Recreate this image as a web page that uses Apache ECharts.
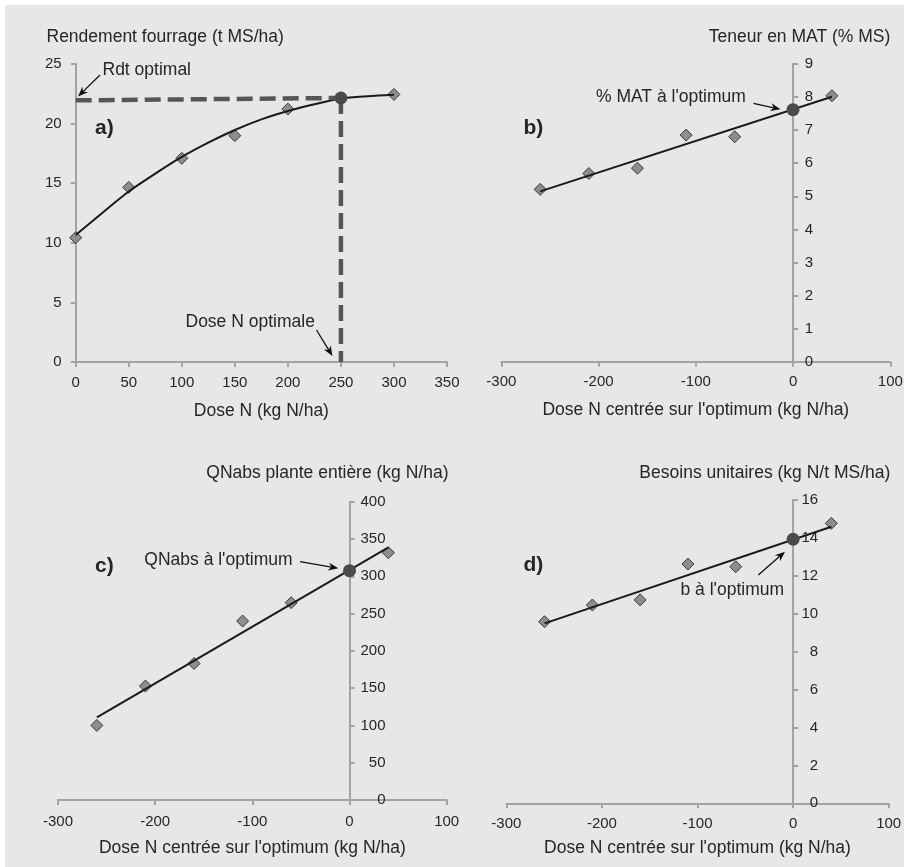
<!DOCTYPE html>
<html>
<head>
<meta charset="utf-8">
<script src="https://cdn.jsdelivr.net/npm/echarts@6/dist/echarts.min.js"></script>
<style>html,body{margin:0;padding:0;background:#fff;}#c{width:904px;height:867px;}</style>
</head>
<body>
<div id="c"></div>
<script>
// ---------- DATA ----------
// Panel a) yield vs N dose
const doseA = [0, 50, 100, 150, 200, 300];
const rendA = [10.43, 14.65, 17.09, 18.99, 21.22, 22.45];
const curveDoseA = [0, 25, 50, 75, 100, 125, 150, 175, 200, 225, 250, 275, 300];
const curveRendA = [10.65, 12.5, 14.3, 15.8, 17.2, 18.4, 19.46, 20.35, 21.05, 21.62, 22.1, 22.3, 22.42];
const optA = [250, 22.15];
const dashStartYA = 21.95;

// Panels b), c), d) : dose centred on optimum
const doseCentered = [-260, -210, -160, -110, -60, 40];
const fitX = [-260, 40];

const matB = [5.21, 5.69, 5.85, 6.85, 6.80, 8.04];
const fitB = [5.15, 8.01];
const optB = 7.62;

const qnC = [100, 152.8, 183, 240, 264.6, 331.6];
const fitC = [110.8, 338.8];
const optC = 307.5;

const bD = [9.58, 10.46, 10.73, 12.62, 12.48, 14.77];
const fitD = [9.49, 14.59];
const optD = 13.93;

// Axis ranges / ticks
const xTicksA = {min: 0, max: 350, interval: 50};
const yTicksA = {min: 0, max: 25, interval: 5};
const xTicksC = {min: -300, max: 100, interval: 100};
const yTicksB = {min: 0, max: 9, interval: 1};
const yTicksC = {min: 0, max: 400, interval: 50};
const yTicksD = {min: 0, max: 16, interval: 2};

// Texts
const yNames = ['Rendement fourrage (t MS/ha)', 'Teneur en MAT (% MS)', 'QNabs plante entière (kg N/ha)', 'Besoins unitaires (kg N/t MS/ha)'];
const xNames = ['Dose N (kg N/ha)', "Dose N centrée sur l'optimum (kg N/ha)", "Dose N centrée sur l'optimum (kg N/ha)", "Dose N centrée sur l'optimum (kg N/ha)"];
const panelLabels = ['a)', 'b)', 'c)', 'd)'];

// ---------- CHART ----------
const FONT = "'Liberation Sans', Arial, Helvetica, sans-serif";
const TXT = '#262626';
const AX = '#a3a3a3';

const zip = (xs, ys) => xs.map((x, i) => [x, ys[i]]);

const gridBoxes = [
  {left: 75.7, top: 64, width: 371.3, height: 298},
  {left: 501.3, top: 64, width: 389, height: 297.7},
  {left: 58, top: 501.7, width: 388.7, height: 298.3},
  {left: 506.3, top: 500, width: 382.4, height: 303.3}
];
const grids = gridBoxes.map(g => Object.assign({outerBoundsMode: 'none', containLabel: false}, g));

function xAx(i, t, gap, margin) {
  return Object.assign({
    type: 'value', gridIndex: i,
    name: xNames[i], nameLocation: 'middle', nameGap: gap,
    nameTextStyle: {fontFamily: FONT, fontSize: 17.5, color: TXT},
    axisLine: {show: true, onZero: false, lineStyle: {color: AX, width: 2}},
    axisTick: {show: true, length: 5, lineStyle: {color: AX, width: 2}},
    axisLabel: {fontFamily: FONT, fontSize: 15, color: TXT, margin: margin, showMinLabel: true, showMaxLabel: true},
    splitLine: {show: false}
  }, t);
}
// y axis placed on x = 0 of the paired x axis (right-side labels)
function yAx(i, t, pos, margin, align, xt) {
  let offset = 0;
  if (pos === 'right' && xt) {
    offset = -gridBoxes[i].width * (xt.max - 0) / (xt.max - xt.min);
  }
  return Object.assign({
    type: 'value', gridIndex: i, position: pos, offset: offset,
    axisLine: {show: true, onZero: false, lineStyle: {color: AX, width: 2}},
    axisTick: {show: true, length: 5, lineStyle: {color: AX, width: 2}},
    axisLabel: {fontFamily: FONT, fontSize: 15, color: TXT, margin: margin, align: align, showMinLabel: true, showMaxLabel: true},
    splitLine: {show: false}
  }, t);
}

const diamond = (i, data) => ({
  type: 'scatter', xAxisIndex: i, yAxisIndex: i, data: data,
  symbol: 'diamond', symbolSize: 12, z: 2,
  itemStyle: {color: '#8d8d8d', borderColor: '#3a3a3a', borderWidth: 1, opacity: 1},
  emphasis: {disabled: true}
});
const fitLine = (i, data, smooth) => ({
  type: 'line', xAxisIndex: i, yAxisIndex: i, data: data, smooth: smooth || false,
  showSymbol: false, symbol: 'none', z: 3,
  lineStyle: {color: '#1a1a1a', width: 2}, emphasis: {disabled: true}
});
const optPoint = (i, pt) => ({
  type: 'scatter', xAxisIndex: i, yAxisIndex: i, data: [pt],
  symbol: 'circle', symbolSize: 13, z: 5,
  itemStyle: {color: '#4a4a4a', opacity: 1}, emphasis: {disabled: true}
});
const dashLine = (i, data) => ({
  type: 'line', xAxisIndex: i, yAxisIndex: i, data: data,
  showSymbol: false, symbol: 'none', z: 4,
  lineStyle: {color: '#555555', width: 4.5, type: [16, 7]}, emphasis: {disabled: true}
});

// graphics helpers
function txt(text, x, y, opts) {
  opts = opts || {};
  return {
    type: 'text', x: x, y: y, z: 10,
    style: {
      text: text, fill: TXT,
      font: (opts.bold ? 'bold ' : '') + (opts.size || 17.5) + 'px ' + FONT,
      align: opts.align || 'left', verticalAlign: 'middle',
      textAlign: opts.align || 'left', textVerticalAlign: 'middle'
    }
  };
}
function arrow(x1, y1, x2, y2) {
  const ang = Math.atan2(y2 - y1, x2 - x1);
  const L = 10, W = 4;
  const bx = x2 - L * Math.cos(ang), by = y2 - L * Math.sin(ang);
  const px = -Math.sin(ang) * W, py = Math.cos(ang) * W;
  const nx = x2 - 0.7 * L * Math.cos(ang), ny = y2 - 0.7 * L * Math.sin(ang);
  return [
    {type: 'line', z: 10, shape: {x1: x1, y1: y1, x2: nx, y2: ny}, style: {stroke: '#111', lineWidth: 1.3}},
    {type: 'polygon', z: 10, shape: {points: [[x2, y2], [bx + px, by + py], [nx, ny], [bx - px, by - py]]}, style: {fill: '#111'}}
  ];
}

const graphics = [
  {type: 'rect', z: -10, shape: {x: 5, y: 5, width: 899, height: 862}, style: {fill: '#e6e7e8'}},
  txt(yNames[0], 46.5, 37.5),
  txt(yNames[1], 890.3, 37.5, {align: 'right'}),
  txt(yNames[2], 448.5, 473.5, {align: 'right'}),
  txt(yNames[3], 890.3, 473.5, {align: 'right'}),
  txt(panelLabels[0], 95, 128, {bold: true, size: 21}),
  txt(panelLabels[1], 523.5, 128, {bold: true, size: 21}),
  txt(panelLabels[2], 95, 566.5, {bold: true, size: 21}),
  txt(panelLabels[3], 523.5, 565, {bold: true, size: 21}),
  txt('Rdt optimal', 102.5, 70),
  txt('Dose N optimale', 185.5, 322),
  txt("% MAT à l'optimum", 596, 97.5),
  txt("QNabs à l'optimum", 144.3, 560),
  txt("b à l'optimum", 680.5, 590)
].concat(
  arrow(100, 75, 78, 96.5),
  arrow(316.5, 330, 332.5, 356),
  arrow(753.5, 103.3, 780.5, 109.3),
  arrow(300, 561.7, 338.3, 568.3),
  arrow(758.3, 575, 785, 551.7)
);

const option = {
  animation: false,
  backgroundColor: '#ffffff',
  textStyle: {fontFamily: FONT},
  grid: grids,
  xAxis: [
    xAx(0, xTicksA, 40, 13),
    xAx(1, xTicksC, 39, 13),
    xAx(2, xTicksC, 39, 14),
    xAx(3, xTicksC, 36, 13)
  ],
  yAxis: [
    yAx(0, yTicksA, 'left', 14, 'right'),
    yAx(1, yTicksB, 'right', 20, 'right', xTicksC),
    yAx(2, yTicksC, 'right', 36, 'right', xTicksC),
    yAx(3, yTicksD, 'right', 25, 'right', xTicksC)
  ],
  series: [
    diamond(0, zip(doseA, rendA)),
    fitLine(0, zip(curveDoseA, curveRendA), 0.3),
    dashLine(0, [[0, dashStartYA], optA]),
    dashLine(0, [optA, [optA[0], 0]]),
    optPoint(0, optA),

    diamond(1, zip(doseCentered, matB)),
    fitLine(1, zip(fitX, fitB)),
    optPoint(1, [0, optB]),

    diamond(2, zip(doseCentered, qnC)),
    fitLine(2, zip(fitX, fitC)),
    optPoint(2, [0, optC]),

    diamond(3, zip(doseCentered, bD)),
    fitLine(3, zip(fitX, fitD)),
    optPoint(3, [0, optD])
  ],
  graphic: graphics
};

const chart = echarts.init(document.getElementById('c'), null, {renderer: 'canvas'});
chart.setOption(option);
</script>
</body>
</html>
